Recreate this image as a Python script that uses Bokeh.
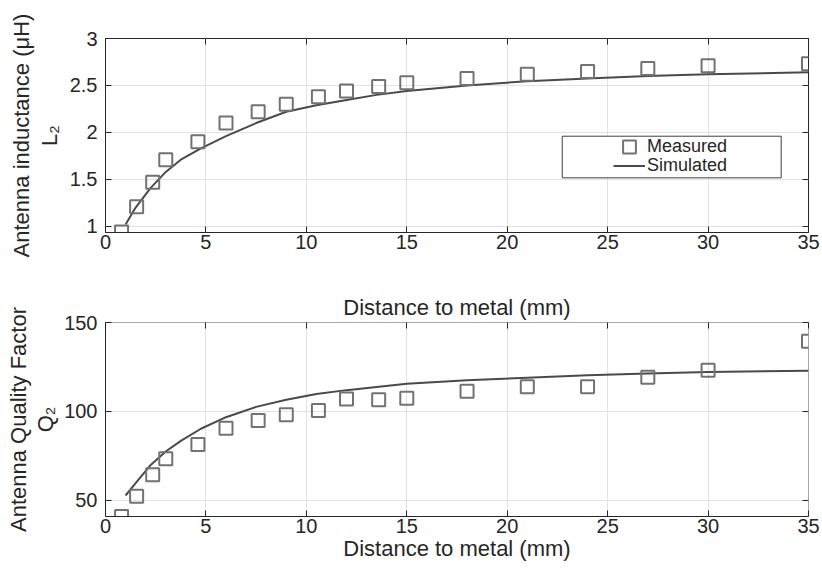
from bokeh.plotting import figure
from bokeh.models import (LinearAxis, FixedTicker, Range1d, Legend, LegendItem,
                          BoxAnnotation, NumeralTickFormatter)
from bokeh.layouts import column
from bokeh.embed import file_html
from bokeh.resources import INLINE

# ---------------- data ----------------
distance_mm = [0.8, 1.55, 2.35, 3.0, 4.6, 6.0, 7.6, 9.0, 10.6, 12.0, 13.6, 15.0,
               18.0, 21.0, 24.0, 27.0, 30.0, 35.0]
L2_measured = [0.94, 1.21, 1.47, 1.71, 1.90, 2.10, 2.22, 2.30, 2.38, 2.44, 2.49, 2.53,
               2.575, 2.62, 2.65, 2.68, 2.71, 2.73]
Q2_measured = [41.0, 52.4, 64.5, 73.5, 81.5, 90.6, 95.0, 98.2, 100.6, 107.0, 106.6, 107.5,
               111.4, 113.9, 113.9, 119.3, 123.2, 139.5]

sim_distance_mm = [1.0, 1.5, 2.25, 3.0, 3.75, 4.75, 6.0, 7.5, 9.0, 10.5, 12.0, 13.5, 15.0,
                   18.0, 21.0, 24.0, 27.0, 30.0, 35.0]
L2_simulated = [1.02, 1.20, 1.41, 1.58, 1.71, 1.83, 1.96, 2.10, 2.22, 2.29, 2.345, 2.40, 2.44,
                2.50, 2.545, 2.575, 2.60, 2.62, 2.64]
Q2_simulated = [52.8, 59.8, 70.0, 77.5, 83.5, 90.3, 96.8, 102.6, 106.6, 109.8, 112.0, 113.8, 115.6,
                117.6, 119.0, 120.3, 121.3, 122.2, 122.9]

x_ticks = [0, 5, 10, 15, 20, 25, 30, 35]
L2_ticks = [1, 1.5, 2, 2.5, 3]
Q2_ticks = [50, 100, 150]

x_label = "Distance to metal (mm)"
L2_label_outer = "Antenna inductance (\u03bcH)"
L2_label_inner = "L\u2082"
Q2_label_outer = "Antenna Quality Factor"
Q2_label_inner = "Q\u2082"
legend_labels = ["Measured", "Simulated"]

# ---------------- style ----------------
FONT = "Liberation Sans"
AX_COLOR = "#262626"
GRID_COLOR = "#e2e2e2"
MARKER_COLOR = "#727272"
LINE_COLOR = "#4a4a4a"
TICK_FS = "20px"
LABEL_FS = "22px"
LEGEND_FS = "18px"
W = 820


def label_style(ax):
    ax.axis_label_text_font = FONT
    ax.axis_label_text_font_size = LABEL_FS
    ax.axis_label_text_font_style = "normal"
    ax.axis_label_text_color = AX_COLOR


def style_axis(ax, ticks, fmt=None):
    ax.ticker = FixedTicker(ticks=ticks)
    if fmt is not None:
        ax.formatter = fmt
    ax.major_tick_in = 6
    ax.major_tick_out = 0
    ax.minor_tick_in = 0
    ax.minor_tick_out = 0
    ax.major_tick_line_color = AX_COLOR
    ax.axis_line_color = AX_COLOR
    ax.major_label_text_font = FONT
    ax.major_label_text_font_size = TICK_FS
    ax.major_label_text_color = AX_COLOR
    label_style(ax)


def mirror_axis(ticks):
    ax = LinearAxis(ticker=FixedTicker(ticks=ticks))
    ax.major_tick_in = 6
    ax.major_tick_out = 0
    ax.minor_tick_in = 0
    ax.minor_tick_out = 0
    ax.major_tick_line_color = AX_COLOR
    ax.axis_line_color = None
    ax.major_label_text_font_size = "1px"
    ax.major_label_text_color = None
    ax.major_label_standoff = 0
    label_style(ax)
    return ax


def outer_label_axis(label):
    ax = LinearAxis(ticker=FixedTicker(ticks=[]))
    ax.axis_line_color = None
    ax.major_tick_line_color = None
    ax.minor_tick_line_color = None
    ax.major_tick_out = 0
    ax.major_tick_in = 0
    ax.major_label_standoff = 0
    ax.axis_label = label
    ax.axis_label_standoff = 0
    label_style(ax)
    return ax


def make_panel(height, yr, yticks, ymeas, ysim, inner, outer, inner_standoff,
               border_top, border_bottom, outline_color, yfmt=None):
    p = figure(width=W, height=height, x_range=Range1d(0, 35), y_range=Range1d(*yr),
               output_backend="svg", toolbar_location=None,
               min_border_left=105, min_border_right=12,
               min_border_top=border_top, min_border_bottom=border_bottom)
    p.background_fill_color = "white"
    p.border_fill_color = "white"
    p.outline_line_color = outline_color
    p.outline_line_width = 1
    p.grid.grid_line_color = GRID_COLOR
    p.grid.grid_line_width = 1

    xa = p.xaxis[0]
    ya = p.yaxis[0]
    style_axis(xa, x_ticks)
    style_axis(ya, yticks, yfmt)
    xa.major_label_standoff = 2
    ya.major_label_standoff = 8
    ya.axis_label = inner
    ya.axis_label_standoff = inner_standoff

    p.add_layout(outer_label_axis(outer), "left")
    p.add_layout(mirror_axis(yticks), "right")
    top_axis = mirror_axis(x_ticks)
    p.add_layout(top_axis, "above")

    ln = p.line(sim_distance_mm, ysim, line_color=LINE_COLOR, line_width=2)
    sq = p.scatter(distance_mm, ymeas, marker="square", size=13, fill_color=None,
                   line_color=MARKER_COLOR, line_width=2)
    return p, ln, sq, xa, top_axis


# ---------- top panel: inductance ----------
p1, ln1, sq1, xa1, ta1 = make_panel(284, (0.935, 3), L2_ticks, L2_measured, L2_simulated,
                                    L2_label_inner, L2_label_outer, 5, 38, 52, AX_COLOR,
                                    NumeralTickFormatter(format="0.[0]"))

# legend frame (data units of the top panel) and two single-row legends
LEG_LEFT, LEG_RIGHT, LEG_BOTTOM, LEG_TOP = 22.74, 33.64, 1.517, 1.960
p1.add_layout(BoxAnnotation(left=LEG_LEFT, right=LEG_RIGHT, bottom=LEG_BOTTOM, top=LEG_TOP,
                            fill_color="white", fill_alpha=1.0,
                            line_color="#404040", line_width=1, line_alpha=1.0))
for label, rend, loc in [(legend_labels[0], sq1, (508, 68)),
                         (legend_labels[1], ln1, (508, 49))]:
    lg = Legend(items=[LegendItem(label=label, renderers=[rend])],
                location=loc, margin=0, padding=0, spacing=0,
                glyph_width=32, glyph_height=35, label_height=19, label_standoff=2,
                label_text_font=FONT, label_text_font_size=LEGEND_FS,
                label_text_color=AX_COLOR, border_line_color=None,
                background_fill_alpha=0)
    p1.add_layout(lg)

# ---------- bottom panel: quality factor ----------
p2, ln2, sq2, xa2, ta2 = make_panel(284, (41, 150), Q2_ticks, Q2_measured, Q2_simulated,
                                    Q2_label_inner, Q2_label_outer, 3, 38, 52, "#a8a8a8")
xa2.axis_label = x_label
xa2.axis_label_standoff = 0
# x label of the top panel, shown just above the bottom panel's frame
ta2.axis_label = x_label
ta2.axis_label_standoff = 3

layout = column(p1, p2, spacing=0)
open("out.html", "w").write(file_html(layout, INLINE))
